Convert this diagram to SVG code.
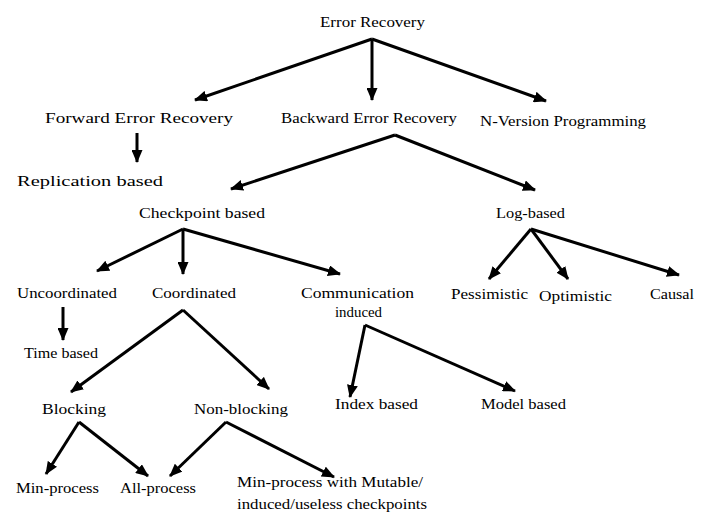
<svg xmlns="http://www.w3.org/2000/svg" width="707" height="516" viewBox="0 0 707 516">
<defs>
<style>
text{font-family:'Liberation Serif','DejaVu Serif','Times New Roman',serif;font-size:15px;fill:#000}
.c line{stroke:#000;stroke-width:3;marker-end:url(#ah)}
</style>
<marker id="ah" markerUnits="userSpaceOnUse" markerWidth="13" markerHeight="11" refX="12" refY="5.5" orient="auto" viewBox="0 0 13 11">
<path d="M0,0 L13,5.5 L0,11 z" fill="#000"/>
</marker>
</defs>
<rect width="707" height="516" fill="#fff"/>
<g font-family="Liberation Serif, DejaVu Serif, serif" font-size="15">
<g id="n-error-recovery"><text x="320" y="27" textLength="105" lengthAdjust="spacingAndGlyphs">Error Recovery</text></g>
<g id="n-forward"><text x="45" y="123" textLength="188" lengthAdjust="spacingAndGlyphs">Forward Error Recovery</text></g>
<g id="n-backward"><text x="281" y="123" textLength="176" lengthAdjust="spacingAndGlyphs">Backward Error Recovery</text></g>
<g id="n-nversion"><text x="480" y="126" textLength="166" lengthAdjust="spacingAndGlyphs">N-Version Programming</text></g>
<g id="n-replication"><text x="17" y="186" textLength="146" lengthAdjust="spacingAndGlyphs">Replication based</text></g>
<g id="n-checkpoint"><text x="139" y="218" textLength="126" lengthAdjust="spacingAndGlyphs">Checkpoint based</text></g>
<g id="n-log"><text x="496" y="218" textLength="69" lengthAdjust="spacingAndGlyphs">Log-based</text></g>
<g id="n-uncoord"><text x="17" y="298" textLength="100" lengthAdjust="spacingAndGlyphs">Uncoordinated</text></g>
<g id="n-coord"><text x="152" y="298" textLength="84" lengthAdjust="spacingAndGlyphs">Coordinated</text></g>
<g id="n-comm"><text x="301" y="298" textLength="113" lengthAdjust="spacingAndGlyphs">Communication</text><text x="335" y="317" textLength="47" lengthAdjust="spacingAndGlyphs">induced</text></g>
<g id="n-pess"><text x="451" y="299" textLength="77" lengthAdjust="spacingAndGlyphs">Pessimistic</text></g>
<g id="n-opt"><text x="539" y="301" textLength="73" lengthAdjust="spacingAndGlyphs">Optimistic</text></g>
<g id="n-causal"><text x="650" y="299" textLength="44" lengthAdjust="spacingAndGlyphs">Causal</text></g>
<g id="n-time"><text x="24" y="358" textLength="74" lengthAdjust="spacingAndGlyphs">Time based</text></g>
<g id="n-blocking"><text x="42" y="414" textLength="64" lengthAdjust="spacingAndGlyphs">Blocking</text></g>
<g id="n-nonblocking"><text x="194" y="414" textLength="94" lengthAdjust="spacingAndGlyphs">Non-blocking</text></g>
<g id="n-index"><text x="335" y="409" textLength="83" lengthAdjust="spacingAndGlyphs">Index based</text></g>
<g id="n-model"><text x="481" y="409" textLength="85" lengthAdjust="spacingAndGlyphs">Model based</text></g>
<g id="n-minproc"><text x="16" y="493" textLength="83" lengthAdjust="spacingAndGlyphs">Min-process</text></g>
<g id="n-allproc"><text x="120" y="493" textLength="76" lengthAdjust="spacingAndGlyphs">All-process</text></g>
<g id="n-minmut"><text x="237" y="487" textLength="186" lengthAdjust="spacingAndGlyphs">Min-process with Mutable/</text><text x="237" y="509" textLength="190" lengthAdjust="spacingAndGlyphs">induced/useless checkpoints</text></g>
</g>
<g id="connectors" class="c">
<line x1="372" y1="39" x2="195" y2="100"/>
<line x1="372" y1="39" x2="372" y2="100"/>
<line x1="372" y1="39" x2="546" y2="101"/>
<line x1="137" y1="133" x2="137" y2="162"/>
<line x1="395" y1="135" x2="231" y2="189"/>
<line x1="395" y1="135" x2="535" y2="190"/>
<line x1="183" y1="229" x2="97" y2="271"/>
<line x1="183" y1="229" x2="183" y2="274"/>
<line x1="183" y1="229" x2="340" y2="274"/>
<line x1="531" y1="229" x2="489" y2="279"/>
<line x1="531" y1="229" x2="568" y2="279"/>
<line x1="531" y1="229" x2="679" y2="275"/>
<line x1="63" y1="307" x2="63" y2="340"/>
<line x1="183" y1="310" x2="71" y2="392"/>
<line x1="183" y1="310" x2="269" y2="389"/>
<line x1="365" y1="325" x2="350" y2="397"/>
<line x1="365" y1="325" x2="515" y2="391"/>
<line x1="79" y1="422" x2="46" y2="474"/>
<line x1="79" y1="422" x2="148" y2="476"/>
<line x1="226" y1="422" x2="170" y2="476"/>
<line x1="226" y1="422" x2="334" y2="477"/>
</g>
</svg>
